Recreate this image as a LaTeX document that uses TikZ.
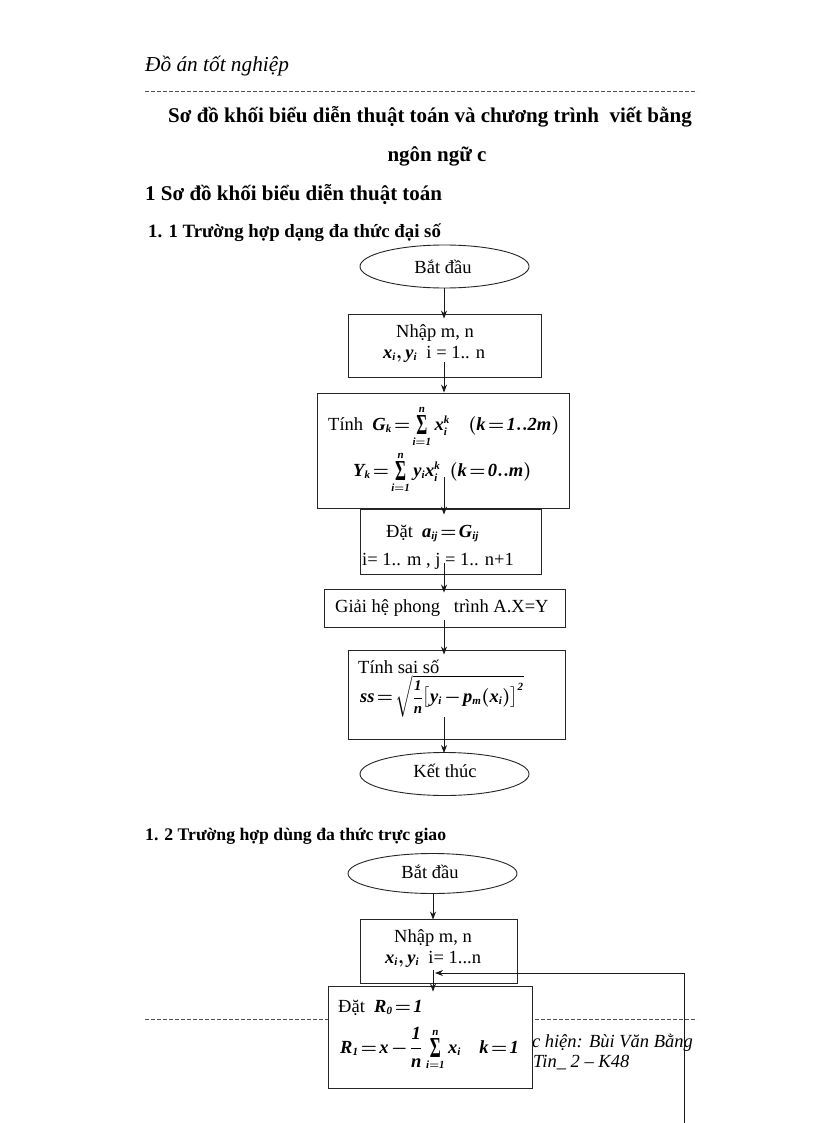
\RequirePackage{fix-cm}
\documentclass[tikz,border=0pt]{standalone}
\usepackage{amsmath}
\usepackage{graphicx}
\usepackage{fontspec}
\setmainfont{Liberation Serif}[NFSSFamily=libser]
\DeclareMathAlphabet{\mathbi}{TU}{libser}{bx}{it}
\DeclareMathSizes{18.5}{18.5}{11}{9}
\usetikzlibrary{arrows.meta,shapes.geometric,calc}
\newcommand{\fsz}[1]{\fontsize{#1}{#1}\selectfont}
\newcommand{\bfm}[1]{{\boldmath$\thickmuskip=2mu\medmuskip=2mu\mathbi{#1}$}}
\newcommand{\bsum}{\mathop{\vcenter{\hbox{\resizebox{11pt}{19pt}{\bfseries Σ}}}}\limits}
\newcommand{\sfrac}{\mbox{\scalebox{0.8}{\bfm{\dfrac{1}{n}}}}}
\begin{document}
\begin{tikzpicture}[x=1pt,y=-1pt,
  box/.style={draw=black!85,line width=0.9pt,fill=white,inner sep=0pt},
  oval/.style={ellipse,draw=black!85,line width=0.9pt,fill=white,inner sep=0pt,font=\fsz{18.5}},
  txt/.style={inner sep=0pt,anchor=base west,font=\fsz{18.5}},
  arr/.style={-{Stealth[length=8pt,width=6pt]},line width=0.8pt,black!90},
  dashline/.style={draw=black!70,line width=0.8pt,dash pattern=on 4pt off 2pt},
  head/.style={inner sep=0pt,anchor=base west,font=\bfseries\fsz{21}}]
\useasboundingbox (0,0) rectangle (816,1123);
\fill[white] (0,0) rectangle (816,1123);
% header
\node[inner sep=0pt,anchor=base west,font=\itshape\fsz{21.3}] (hdr) at (145,72) {Đồ án tốt nghiệp};
\coordinate (dl1) at (145,91); \coordinate (dr1) at (697,91);
\draw[dashline] (dl1) -- (dr1);
\node[head] (title1) at (168,123) {Sơ đồ khối biểu diễn thuật toán và chương trình\ \ viết bằng};
\node[inner sep=0pt,anchor=base,font=\bfseries\fsz{21}] (title2) at (437,162) {ngôn ngữ c};
\node[head] (sec1) at (145,201) {1 Sơ đồ khối biểu diễn thuật toán};
\node[inner sep=0pt,anchor=base west,font=\bfseries\fsz{18.8}] (sub1) at (148,237) {1. 1 Trường hợp dạng đa thức đại số};
% footer
\coordinate (dl2) at (145,1019); \coordinate (dr2) at (697,1019);
\draw[dashline] (dl2) -- (dr2);
\node[inner sep=0pt,anchor=base east,font=\itshape\fsz{18.5}] (ft1) at (693,1047) {c hiện: Bùi Văn Bằng};
\node[inner sep=0pt,anchor=base west,font=\itshape\fsz{18.5}] (ft2) at (533,1067) {Tin\_ 2 – K48};
% column coordinates
\coordinate (col1) at (444,0);
\coordinate (col2) at (433,0);
% flowchart 1
\node[oval,minimum width=169pt,minimum height=43pt] (e1) at (444.5,266.5) {};
\node[box,minimum width=193pt,minimum height=63pt] (b1) at (444.5,345.5) {};
\node[box,minimum width=252pt,minimum height=115pt] (b2) at (443,450.5) {};
\node[box,minimum width=181pt,minimum height=65pt] (b3) at (450.5,541.5) {};
\node[box,minimum width=241pt,minimum height=38pt] (b4) at (444.5,608) {};
\node[box,minimum width=217pt,minimum height=89pt] (b5) at (456.5,694.5) {};
\node[oval,minimum width=169pt,minimum height=43pt] (e2) at (444.5,774) {};
\node[txt,anchor=base] (te1) at (443,273) {Bắt đầu};
\node[txt] (t1a) at (396,337) {Nhập m, n};
\node[txt] (t1b) at (383,358) {\bfm{x_i,y_i}\ \ i = 1.. n};
\node[txt] (t2a) at (328,430) {Tính\enspace\bfm{G_k=\bsum_{i=1}^{n}x_i^k}\quad\bfm{(k=1..2m)}};
\node[txt] (t2b) at (353,476) {\bfm{Y_k=\bsum_{i=1}^{n}y_ix_i^k}\ \ \bfm{(k=0..m)}};
\node[txt] (t3a) at (386,537) {Đặt\ \ \bfm{a_{ij}=G_{ij}}};
\node[txt] (t3b) at (362,565) {i= 1.. m , j = 1.. n+1};
\node[txt] (t4) at (335,612) {Giải hệ phong\ \ \ trình A.X=Y};
\node[txt] (t5a) at (358,673) {Tính sai số};
\node[txt] (t5b) at (360,702) {\bfm{ss=\sqrt{\sfrac\big[y_i-p_m(x_i)\big]^2}}};
\node[txt,anchor=base] (te2) at (445,777) {Kết thúc};
\draw[arr] (e1.south -| col1) -- ([yshift=-5pt]b1.north -| col1);
\draw[arr] ([yshift=15pt]b1.south -| col1) -- (b2.north -| col1);
\draw[arr] ([yshift=31pt]b2.south -| col1) -- ([yshift=-6pt]b3.north -| col1);
\draw[arr] ([yshift=11pt]b3.south -| col1) -- ([yshift=-4pt]b4.north -| col1);
\draw[arr] ([yshift=7pt]b4.south -| col1) -- ([yshift=-5pt]b5.north -| col1);
\draw[arr] ([yshift=22pt]b5.south -| col1) -- ([yshift=-1pt]e2.north -| col1);
% flowchart 2
\node[inner sep=0pt,anchor=base west,font=\bfseries\fsz{17.7}] (sub2) at (145,840) {1. 2 Trường hợp dùng đa thức trực giao};
\node[oval,minimum width=169pt,minimum height=40pt] (e3) at (432.5,873.5) {};
\node[box,minimum width=157pt,minimum height=64pt] (b6) at (438.5,951) {};
\node[box,minimum width=204pt,minimum height=102pt] (b7) at (430,1037) {};
\node[txt,anchor=base] (te3) at (430,878) {Bắt đầu};
\node[txt] (t6a) at (394,942) {Nhập m, n};
\node[txt] (t6b) at (385,963) {\bfm{x_i,y_i}\ \ i= 1...n};
\node[txt] (t7a) at (338,1012) {Đặt\ \ \bfm{R_0=1}};
\node[txt] (t7b) at (340,1053) {\bfm{R_1=x-\dfrac{1}{n}\bsum_{i=1}^{n}x_i\quad k=1}};
\draw[arr] (e3.south -| col2) -- ([yshift=-1pt]b6.north -| col2);
\draw[arr] ([yshift=13pt]b6.south -| col2) -- ([yshift=-6pt]b7.north -| col2);
\coordinate (loopbot) at (684,1123);
\coordinate (loopcorner) at (684,973);
\coordinate (looptip) at (435,973);
\draw[arr] (loopbot) -- (loopcorner) -- (looptip);
\end{tikzpicture}
\end{document}
